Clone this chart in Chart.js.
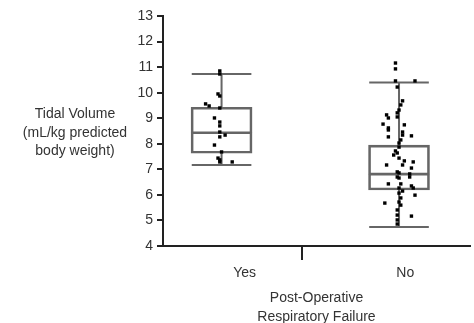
<!DOCTYPE html>
<html>
<head>
<meta charset="utf-8">
<script src="https://cdn.jsdelivr.net/npm/chart.js@4"></script>
<style>
    html, body { margin: 0; padding: 0; background: #fff; }
    #wrap { width: 474px; height: 323px; }
</style>
</head>
<body>
<div id="wrap"><canvas id="box-chart"></canvas></div>
<script>
'use strict';

// groups on the x axis
const groups = ['Yes', 'No'];
const groupPos = [0, 1];

// box stats per group: lower whisker, Q1, median, Q3, upper whisker
const whiskerLow = [7.17, 4.74];
const q1 = [7.63, 6.19];
const median = [8.43, 6.81];
const q3 = [9.43, 7.95];
const whiskerHigh = [10.73, 10.40];

// individual patients (tidal volume) and horizontal jitter
const yesValues = [10.85, 10.73, 9.95, 9.87, 9.56, 9.48, 9.40, 9.01, 8.85, 8.70,
    8.46, 8.34, 8.27, 7.95, 7.68, 7.44, 7.37, 7.29, 7.29];
const yesJitter = [-0.01, -0.01, -0.02, -0.01, -0.09, -0.07, -0.01, -0.04, -0.01, -0.01,
    -0.01, 0.02, -0.01, -0.04, 0.0, -0.02, -0.01, -0.01, 0.06];

const noValues = [11.16, 10.93, 10.46, 10.46, 10.22, 9.68, 9.52, 9.32, 9.21, 9.05,
    9.13, 9.01, 8.77, 8.62, 8.54, 8.74, 8.46, 8.34, 8.31, 8.27,
    8.15, 8.03, 7.87, 7.72, 7.56, 7.64, 7.44, 7.33, 7.29, 7.17,
    7.17, 6.90, 6.86, 7.05, 6.82, 6.70, 6.66, 6.70, 6.43, 6.43,
    6.27, 6.35, 6.27, 6.15, 6.07, 5.99, 5.88, 5.72, 5.60, 5.68,
    5.41, 5.21, 5.02, 5.17, 4.86];
const noJitter = [-0.02, -0.02, -0.02, 0.09, -0.01, 0.02, 0.01, 0.0, -0.01, -0.01,
    -0.07, -0.06, -0.09, -0.06, -0.06, 0.03, 0.02, 0.02, 0.07, -0.06,
    0.01, 0.0, 0.0, -0.02, -0.03, -0.01, 0.0, 0.03, 0.08, -0.07,
    0.02, -0.01, 0.0, 0.07, 0.06, -0.01, 0.0, 0.06, -0.06, 0.01,
    0.0, 0.07, 0.08, 0.02, 0.0, 0.09, 0.01, 0.0, 0.01, -0.08,
    -0.01, -0.01, -0.01, 0.07, -0.01];

// x tick labels sit a little right of the boxes in the original
const tickLabelPos = [0.13, 1.035];
const separatorPos = 0.455;

const yTitle = ['Tidal Volume', '(mL/kg predicted', 'body weight)'];
const xTitle = ['Post-Operative', 'Respiratory Failure'];

const FONT = '"Liberation Sans", Arial, sans-serif';
const TEXT = '#333';
const BOX = '#666';
const CAP_HALF = 0.168;

function whiskerData() {
    let pts = [];
    for (let i = 0; i < groups.length; i++) {
        let x = groupPos[i];
        pts.push({x: x - CAP_HALF, y: whiskerHigh[i]}, {x: x + CAP_HALF, y: whiskerHigh[i]}, {x: x, y: null});
        pts.push({x: x, y: q3[i]}, {x: x, y: whiskerHigh[i]}, {x: x, y: null});
        pts.push({x: x, y: whiskerLow[i]}, {x: x, y: q1[i]}, {x: x, y: null});
        pts.push({x: x - CAP_HALF, y: whiskerLow[i]}, {x: x + CAP_HALF, y: whiskerLow[i]}, {x: x, y: null});
    }
    return pts;
}

function dots(values, jitter, i) {
    return values.map((v, k) => ({x: groupPos[i] + jitter[k], y: v}));
}

const yTitlePlugin = {
    id: 'yTitle',
    afterDraw(chart) {
        const ctx = chart.ctx;
        const area = chart.chartArea;
        const lh = 18.5;
        const cy = (area.top + area.bottom) / 2 + 2;
        ctx.save();
        ctx.font = '14px ' + FONT;
        ctx.fillStyle = TEXT;
        ctx.textAlign = 'center';
        ctx.textBaseline = 'middle';
        yTitle.forEach((line, k) => {
            ctx.fillText(line, 75, cy + (k - 1) * lh);
        });
        ctx.restore();
    }
};

const barStyle = {
    type: 'bar',
    backgroundColor: 'rgba(0,0,0,0)',
    borderColor: BOX,
    borderSkipped: false,
    barThickness: 61,
    grouped: false,
    order: 3
};

let chart = new Chart(document.getElementById('box-chart').getContext('2d'), {
    type: 'bar',
    data: {
        datasets: [
            Object.assign({
                label: 'lower box',
                data: groupPos.map((x, i) => ({x: x, y: [q1[i], median[i]]})),
                borderWidth: {top: 1, bottom: 2, left: 2, right: 2}
            }, barStyle),
            Object.assign({
                label: 'upper box',
                data: groupPos.map((x, i) => ({x: x, y: [median[i], q3[i]]})),
                borderWidth: {top: 2, bottom: 1, left: 2, right: 2}
            }, barStyle),
            {
                type: 'line',
                label: 'whiskers',
                data: whiskerData(),
                borderColor: BOX,
                borderWidth: 2,
                pointRadius: 0,
                spanGaps: false,
                order: 2
            },
            {
                type: 'scatter',
                label: 'Yes',
                data: dots(yesValues, yesJitter, 0),
                pointStyle: 'rect',
                pointRadius: 2.4,
                backgroundColor: '#000',
                borderWidth: 0,
                order: 1
            },
            {
                type: 'scatter',
                label: 'No',
                data: dots(noValues, noJitter, 1),
                pointStyle: 'rect',
                pointRadius: 2.4,
                backgroundColor: '#000',
                borderWidth: 0,
                order: 1
            }
        ]
    },
    options: {
        responsive: true,
        maintainAspectRatio: false,
        animation: false,
        layout: {padding: {top: 16, left: 0, right: 0, bottom: 0}},
        plugins: {
            legend: {display: false},
            tooltip: {enabled: false}
        },
        scales: {
            x: {
                type: 'linear',
                offset: false,
                min: -0.33,
                max: 1.40,
                afterBuildTicks(scale) {
                    scale.ticks = [
                        {value: tickLabelPos[0]},
                        {value: separatorPos},
                        {value: tickLabelPos[1]}
                    ];
                },
                afterFit(scale) {
                    scale.height = 77;
                },
                ticks: {
                    autoSkip: false,
                    maxRotation: 0,
                    padding: 5,
                    color: TEXT,
                    font: {family: FONT, size: 14},
                    callback(value) {
                        let i = tickLabelPos.indexOf(value);
                        return i >= 0 ? groups[i] : '';
                    }
                },
                grid: {
                    offset: false,
                    drawOnChartArea: false,
                    drawTicks: true,
                    tickLength: 14,
                    lineWidth: 2,
                    tickColor: ctx => (ctx.tick && ctx.tick.value === separatorPos) ? '#222' : 'rgba(0,0,0,0)'
                },
                border: {color: '#222', width: 2},
                title: {
                    display: true,
                    text: xTitle,
                    color: TEXT,
                    font: {family: FONT, size: 14, lineHeight: 1.36},
                    padding: {top: 0, bottom: -4}
                }
            },
            y: {
                min: 4,
                max: 13,
                afterFit(scale) {
                    scale.width = 163;
                },
                ticks: {
                    stepSize: 1,
                    padding: 4,
                    color: TEXT,
                    font: {family: FONT, size: 14}
                },
                grid: {
                    drawOnChartArea: false,
                    drawTicks: true,
                    tickLength: 6,
                    lineWidth: 2,
                    color: '#222'
                },
                border: {color: '#222', width: 2}
            }
        }
    },
    plugins: [yTitlePlugin]
});
</script>
</body>
</html>
